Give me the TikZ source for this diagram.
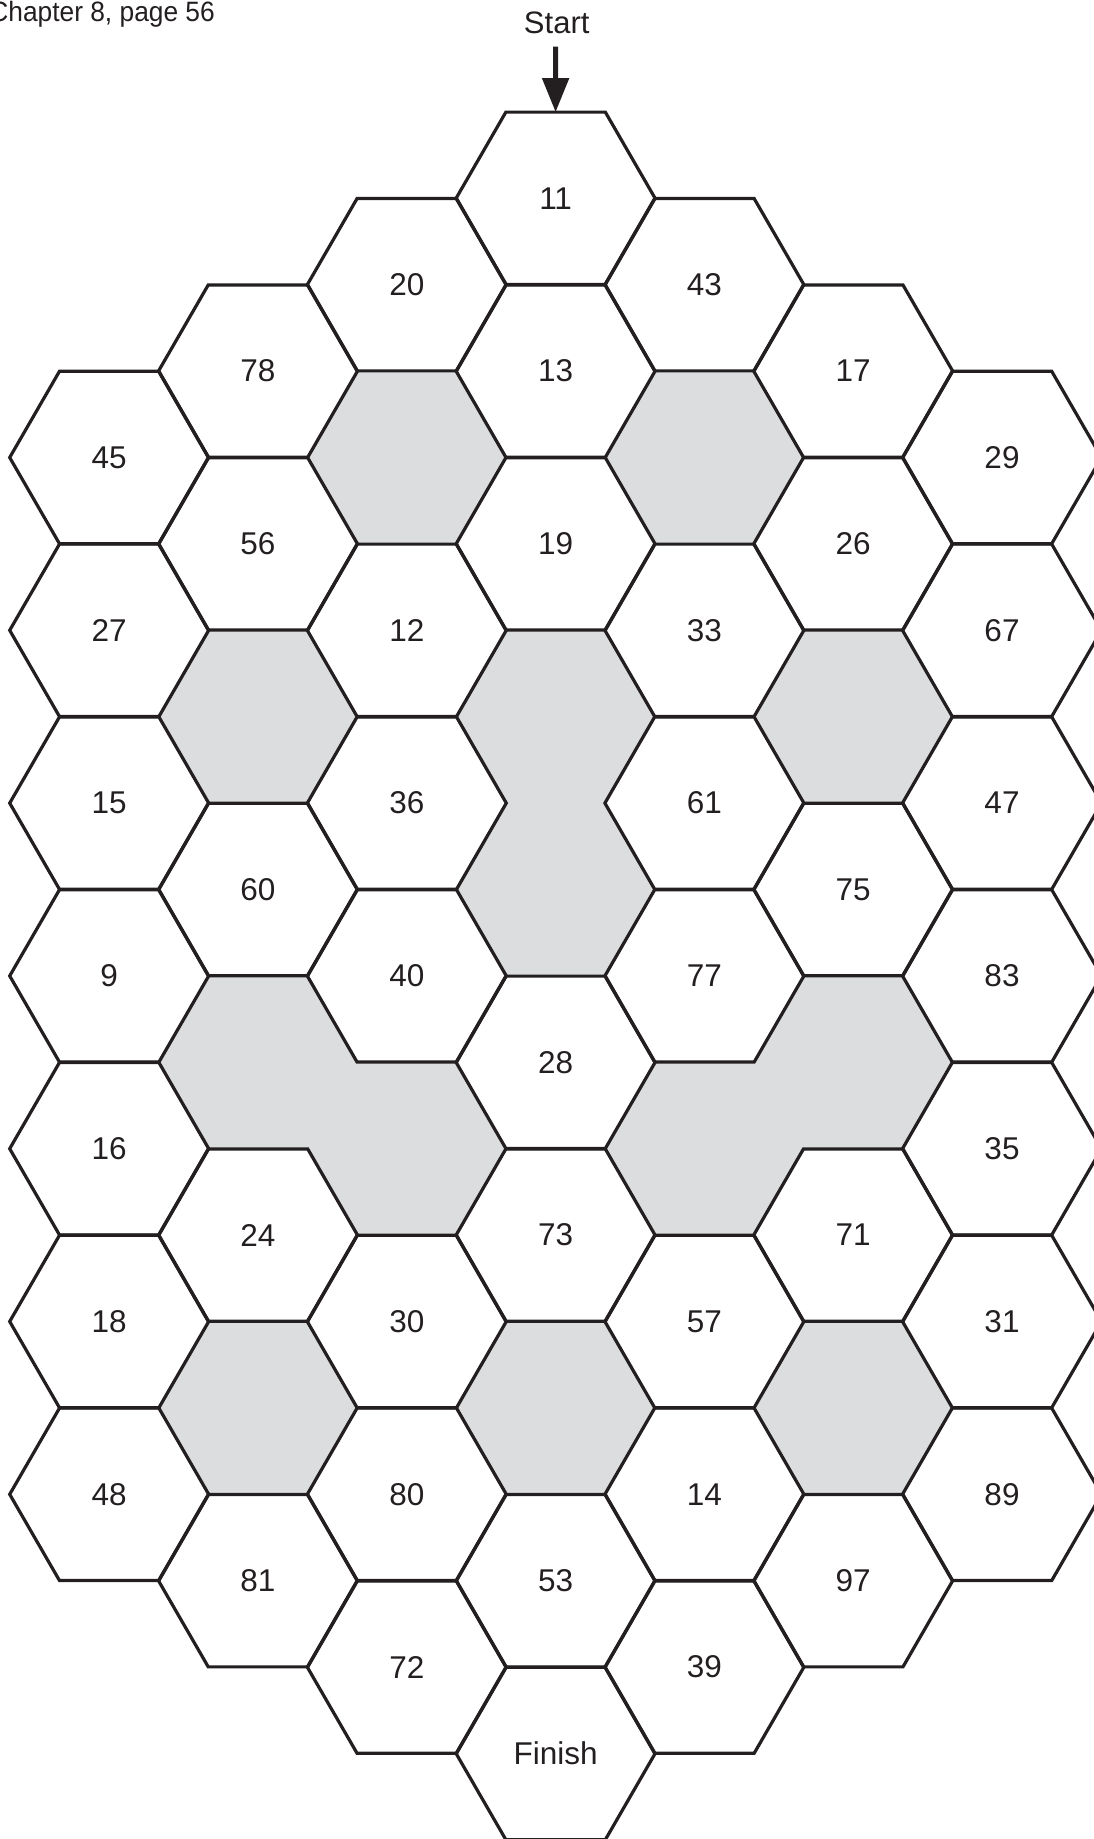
\documentclass[tikz,border=0pt]{standalone}
\usepackage{fontspec}
\setmainfont{Liberation Sans}
\usetikzlibrary{shapes.geometric,arrows.meta}
\definecolor{ink}{RGB}{35,31,32}
\definecolor{shade}{RGB}{220,221,223}
\begin{document}
\begin{tikzpicture}[x=1pt,y=-1pt,
  hex/.style={regular polygon, regular polygon sides=6, minimum size=199pt, inner sep=0pt, outer sep=0pt},
  cell/.style={hex, draw=ink, line width=3.2pt, line join=miter, text=ink, font=\fontsize{31.5}{37}\selectfont},
  shaded/.style={hex, fill=shade, draw=shade, line width=2pt},
  lbl/.style={text=ink, inner sep=0pt}]
\useasboundingbox (0,0) rectangle (1094,1839);
% shaded cells (filled only; their borders come from neighbouring cells)
\foreach \c/\k [count=\i] in {3/3, 5/3, 2/6, 4/6, 6/6, 4/8, 2/10, 3/11, 5/11, 6/10, 2/14, 4/14, 6/14}
  \node[shaded] (g\i) at ({109.2+148.8*(\c-1)},{198.3+86.4*\k}) {};
% numbered cells
\foreach \c/\k/\t in {
  4/0/11, 3/1/20, 5/1/43, 2/2/78, 4/2/13, 6/2/17,
  1/3/45, 7/3/29, 2/4/56, 4/4/19, 6/4/26,
  1/5/27, 3/5/12, 5/5/33, 7/5/67,
  1/7/15, 3/7/36, 5/7/61, 7/7/47,
  2/8/60, 6/8/75,
  1/9/9, 3/9/40, 5/9/77, 7/9/83,
  4/10/28, 1/11/16, 7/11/35,
  2/12/24, 4/12/73, 6/12/71,
  1/13/18, 3/13/30, 5/13/57, 7/13/31,
  1/15/48, 3/15/80, 5/15/14, 7/15/89,
  2/16/81, 4/16/53, 6/16/97,
  3/17/72, 5/17/39, 4/18/Finish}
  \node[cell] (h\t) at ({109.2+148.8*(\c-1)},{198.3+86.4*\k}) {\t};
% start label and arrow
\node[lbl, font=\fontsize{31}{36}\selectfont, anchor=base] (start) at (556.7,33) {Start};
\coordinate (arrowtail) at (555.6,46.7);
\draw[ink, line width=5pt, -{Triangle[length=34pt,width=26pt]}] (arrowtail) -- (h11.north);
% header
\node[lbl, font=\fontsize{28}{33}\selectfont, anchor=base east] (chap) at (215,21.7) {\scalebox{0.94}[1]{Chapter 8, page 56}};
\end{tikzpicture}
\end{document}
